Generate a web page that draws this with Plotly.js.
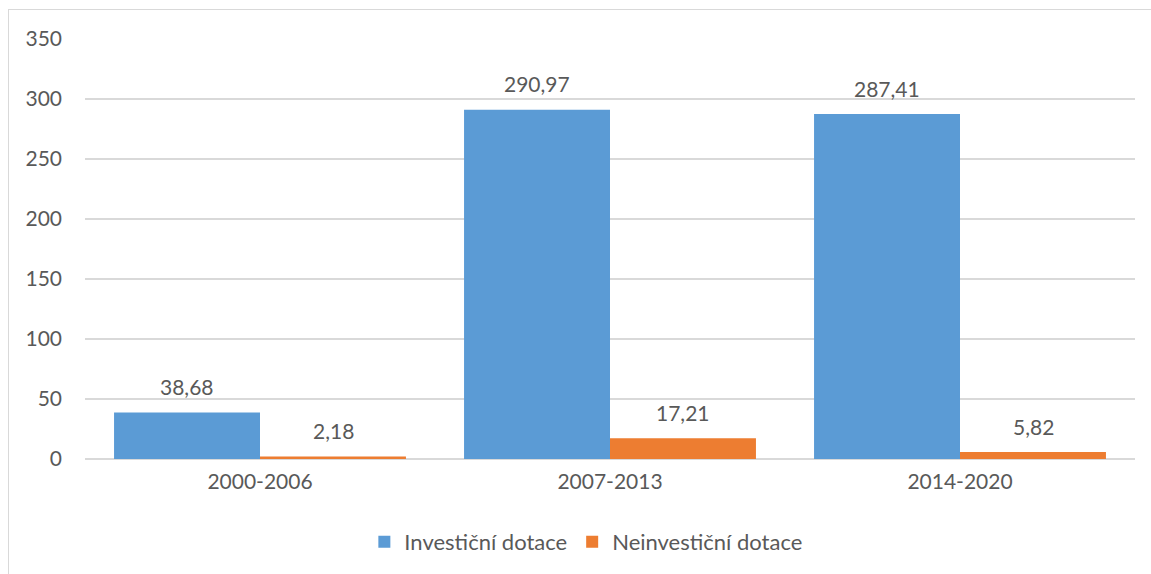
<!DOCTYPE html>
<html>
<head>
<meta charset="utf-8">
<script src="https://cdn.plot.ly/plotly-3.0.1.min.js"></script>
<style>
  html, body { margin: 0; padding: 0; background: #ffffff; overflow: hidden; }
  #frame { position: absolute; left: 8px; top: 9px; width: 1200px; height: 700px;
           border: 1px solid #d9d9d9; box-sizing: border-box; pointer-events: none; }
  #chart { position: absolute; left: 0; top: 0; width: 1151px; height: 574px; }
</style>
</head>
<body>
<div id="chart"></div>
<div id="frame"></div>
<script>
// Programming periods and subsidy amounts
const periods = ['2000-2006', '2007-2013', '2014-2020'];
const investicni = [38.68, 290.97, 287.41];
const neinvesticni = [2.18, 17.21, 5.82];
const seriesNames = ['Investiční dotace', 'Neinvestiční dotace'];
const yTicks = [0, 50, 100, 150, 200, 250, 300, 350];

const textColor = '#595959';
const fontFamily = 'Lato, "Open Sans", sans-serif';

function fmt(v) {
  return v.toFixed(2).replace('.', ',');
}

const traces = [
  {
    type: 'bar', name: seriesNames[0], x: periods, y: investicni,
    marker: { color: '#5b9bd5' }, hoverinfo: 'x+y'
  },
  {
    type: 'bar', name: seriesNames[1], x: periods, y: neinvesticni,
    marker: { color: '#ed7d31' }, hoverinfo: 'x+y'
  }
];

// value labels above each bar
const annotations = [];
[investicni, neinvesticni].forEach((vals, s) => {
  vals.forEach((v, i) => {
    annotations.push({
      x: periods[i], y: v, xref: 'x', yref: 'y',
      text: fmt(v), showarrow: false,
      xshift: s === 0 ? -73 : 73, yshift: 26, yanchor: 'middle',
      font: { family: fontFamily, size: 21, color: textColor }
    });
  });
});

const layout = {
  width: 1151, height: 574,
  margin: { l: 85, r: 16, t: 39, b: 115, autoexpand: false },
  paper_bgcolor: '#ffffff', plot_bgcolor: '#ffffff',
  font: { family: fontFamily, size: 21, color: textColor },
  barmode: 'group', bargap: 0.166, bargroupgap: 0,
  showlegend: true,
  legend: {
    orientation: 'h', x: 0.509, xanchor: 'center', xref: 'container',
    y: 0.056, yanchor: 'middle', yref: 'container',
    font: { family: fontFamily, size: 22, color: textColor },
    itemwidth: 30, traceorder: 'normal'
  },
  xaxis: {
    type: 'category', showgrid: false, zeroline: false, showline: false,
    ticks: '', ticklabelstandoff: 8, automargin: false,
    tickfont: { family: fontFamily, size: 21, color: textColor }
  },
  yaxis: {
    range: [0, 350], tickvals: yTicks, ticktext: yTicks.map(String),
    showgrid: true, gridcolor: '#d9d9d9', gridwidth: 1.5,
    zeroline: true, zerolinecolor: '#d9d9d9', zerolinewidth: 1.5,
    showline: false, ticks: '', ticklabelstandoff: 22, automargin: false,
    tickfont: { family: fontFamily, size: 21, color: textColor }
  },
  annotations: annotations
};

Plotly.newPlot('chart', traces, layout, { displayModeBar: false, staticPlot: true });
</script>
</body>
</html>
